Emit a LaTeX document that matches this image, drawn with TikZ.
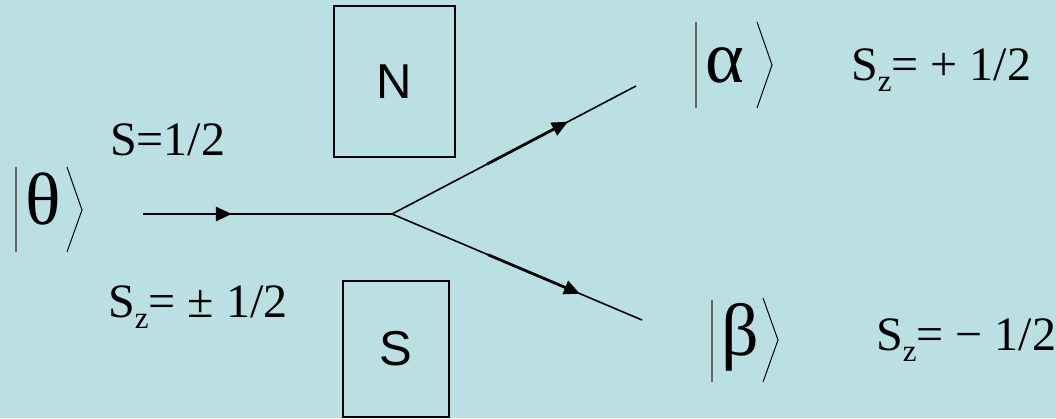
\documentclass[tikz,border=0pt]{standalone}
\usepackage{fontspec}
\setmainfont{Liberation Serif}
\newfontfamily\magnetfont{Liberation Sans}
\usetikzlibrary{arrows.meta,calc}
\definecolor{bgblue}{RGB}{187,224,228}
% lowered subscript z for S_z
\newcommand\spinz{\raisebox{-11pt}{\fontsize{31}{31}\selectfont z}}
\begin{document}
\begin{tikzpicture}[x=1pt,y=-1pt,
  beam/.style={line width=1.6pt},
  beamarrow/.style={line width=2.8pt,-{Triangle[length=16pt,width=14pt]}},
  magnet/.style={draw,line width=1.8pt,minimum width=121pt,minimum height=151pt,
    inner sep=0pt,font=\magnetfont\fontsize{49}{49}\selectfont},
  spinlabel/.style={anchor=base west,inner sep=0pt,font=\fontsize{48}{48}\selectfont},
  ketsym/.style={anchor=base west,inner sep=0pt,font=\fontsize{74}{74}\selectfont},
  ketbar/.style={draw=black!60,line width=1.2pt},
  ketangle/.style={line width=1pt}]
  % background
  \fill[bgblue] (0,0) rectangle (1056,418);
  \useasboundingbox (0,0) rectangle (1056,418);

  % magnet poles
  \node[magnet] (north) at (394.5,81.5) {N};
  \node[magnet,minimum width=106pt,minimum height=136pt] (south) at (396,349) {S};

  % beam path
  \coordinate (in) at (143,214);
  \coordinate (split) at (392,214);
  \coordinate (upend) at (636,86);
  \coordinate (lowend) at (642,320);
  \draw[beam] (in) -- (split) -- (upend);
  \draw[beam] (split) -- (lowend);
  \draw[beamarrow] (in) -- ($(in)!0.357!(split)$);
  \draw[beamarrow] ($(split)!0.389!(upend)$) -- ($(split)!0.721!(upend)$);
  \draw[beamarrow] ($(split)!0.384!(lowend)$) -- ($(split)!0.752!(lowend)$);

  % spin labels
  \node[spinlabel] (stot) at (110,155) {S=1/2};
  \node[spinlabel] (szin) at (108,317) {S\spinz= ± 1/2};
  \node[spinlabel] (szup) at (851,80) {S\spinz= + 1/2};
  \node[spinlabel] (szdown) at (876,350) {S\spinz= − 1/2};

  % kets
  \node[ketsym] (theta) at (25,224) {θ};
  \draw[ketbar] (16,167) -- (16,252);
  \draw[ketangle] (67,167) -- (82,210) -- (67,252);

  \node[ketsym] (alpha) at (705,82) {α};
  \draw[ketbar] (696,22) -- (696,108);
  \draw[ketangle] (757,22) -- (772,65) -- (757,108);

  \node[ketsym] (beta) at (721,355) {β};
  \draw[ketbar] (712,300) -- (712,382);
  \draw[ketangle] (763,298) -- (778,340) -- (763,382);
\end{tikzpicture}
\end{document}
